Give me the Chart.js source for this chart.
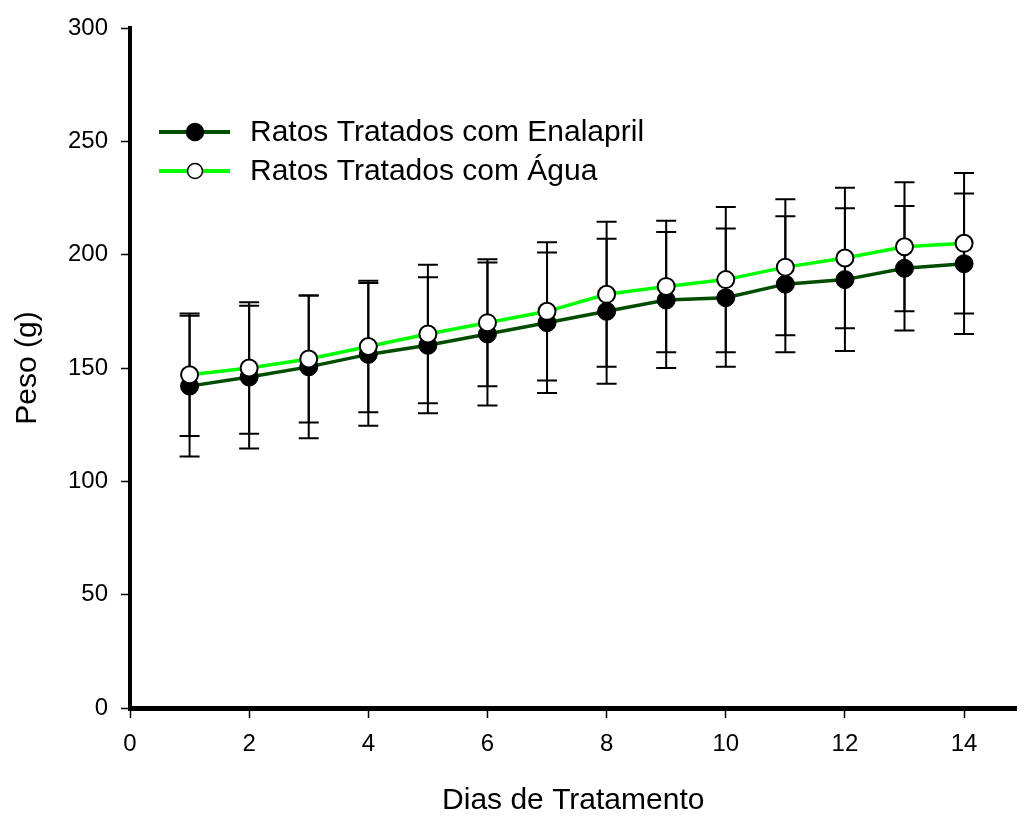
<!DOCTYPE html>
<html>
<head>
<meta charset="utf-8">
<script src="https://cdn.jsdelivr.net/npm/chart.js@4"></script>
<style>
  html, body { margin: 0; padding: 0; background: #fff; }
  #wrap { width: 1027px; height: 819px; position: relative; }
</style>
</head>
<body>
<div id="wrap"><canvas id="chart"></canvas></div>
<script>
// dias de tratamento
const days = [1, 2, 3, 4, 5, 6, 7, 8, 9, 10, 11, 12, 13, 14];

// ratos tratados com enalapril (media e desvio)
const enalaprilMean = [142, 146, 150.5, 156, 160, 165, 170, 175, 180, 181, 187, 189, 194, 196];
const enalaprilSD = [31, 31.5, 31.5, 31.5, 30, 31.5, 31, 32, 30, 30.5, 30, 31.5, 27.5, 31];

// ratos tratados com agua
const aguaMean = [147, 150, 154, 159.5, 165, 170, 175, 182.5, 186, 189, 194.5, 198.5, 203.5, 205];
const aguaSD = [27, 29, 28, 29, 30.5, 28, 30.5, 32, 29, 32, 30, 31, 28.5, 31];

const xTicks = [0, 2, 4, 6, 8, 10, 12, 14];
const yTicks = [0, 50, 100, 150, 200, 250, 300];

const seriesNames = ['Ratos Tratados com Enalapril', 'Ratos Tratados com Água'];
const errors = [enalaprilSD, aguaSD];

Chart.defaults.font.family = '"Liberation Sans", Arial, sans-serif';
Chart.defaults.color = '#000';

// barras de erro desenhadas antes das linhas
const errorBars = {
    id: 'errorBars',
    beforeDatasetsDraw(chart) {
        const ctx = chart.ctx;
        const xs = chart.scales.x, ys = chart.scales.y;
        ctx.save();
        ctx.strokeStyle = '#000';
        ctx.lineWidth = 2;
        chart.data.datasets.forEach((ds, d) => {
            ds.data.forEach((p, i) => {
                const x = xs.getPixelForValue(p.x);
                const top = ys.getPixelForValue(p.y + errors[d][i]);
                const bot = ys.getPixelForValue(p.y - errors[d][i]);
                ctx.beginPath();
                ctx.moveTo(x, top); ctx.lineTo(x, bot);
                ctx.moveTo(x - 10, top); ctx.lineTo(x + 10, top);
                ctx.moveTo(x - 10, bot); ctx.lineTo(x + 10, bot);
                ctx.stroke();
            });
        });
        ctx.restore();
    }
};

// legenda dentro da area do grafico
const innerLegend = {
    id: 'innerLegend',
    afterDraw(chart) {
        const ctx = chart.ctx;
        const left = chart.chartArea.left + 29;
        const rows = [132, 171];
        ctx.save();
        chart.data.datasets.forEach((ds, d) => {
            const y = rows[d];
            ctx.strokeStyle = ds.borderColor;
            ctx.lineWidth = 4;
            ctx.beginPath();
            ctx.moveTo(left, y); ctx.lineTo(left + 71, y);
            ctx.stroke();
            ctx.beginPath();
            ctx.arc(left + 36, y, d === 0 ? 8.5 : 7.5, 0, Math.PI * 2);
            ctx.fillStyle = ds.pointBackgroundColor;
            ctx.fill();
            ctx.lineWidth = 1.5;
            ctx.strokeStyle = '#000';
            ctx.stroke();
            ctx.fillStyle = '#000';
            ctx.font = '30px "Liberation Sans", Arial, sans-serif';
            ctx.textBaseline = 'middle';
            ctx.fillText(seriesNames[d], left + 91, y + 1);
        });
        ctx.restore();
    }
};

new Chart(document.getElementById('chart'), {
    type: 'line',
    data: {
        datasets: [{
            label: seriesNames[0],
            data: days.map((d, i) => ({ x: d, y: enalaprilMean[i] })),
            borderColor: '#004d00',
            borderWidth: 3.5,
            pointRadius: 9,
            pointBackgroundColor: '#000',
            pointBorderColor: '#000',
            pointBorderWidth: 1,
            order: 1
        }, {
            label: seriesNames[1],
            data: days.map((d, i) => ({ x: d, y: aguaMean[i] })),
            borderColor: '#00ff00',
            borderWidth: 3.5,
            pointRadius: 8.5,
            pointBackgroundColor: '#fff',
            pointBorderColor: '#000',
            pointBorderWidth: 2,
            order: 0
        }]
    },
    options: {
        responsive: true,
        maintainAspectRatio: false,
        animation: false,
        layout: { padding: { top: 28, right: 0, bottom: 0, left: 0 } },
        plugins: {
            legend: { display: false },
            tooltip: { enabled: false }
        },
        scales: {
            x: {
                type: 'linear',
                min: 0,
                max: 14.88,
                afterBuildTicks: s => { s.ticks = xTicks.map(v => ({ value: v })); },
                afterFit: s => { s.height = 111; },
                border: { display: true, color: '#000', width: 5 },
                grid: { drawOnChartArea: false, drawTicks: true, tickLength: 10, tickWidth: 1.5, tickColor: '#000' },
                ticks: { font: { size: 24 }, color: '#000', padding: 12, maxRotation: 0 },
                title: { display: true, text: 'Dias de Tratamento', font: { size: 30 }, color: '#000', padding: { top: 0, bottom: 0 } }
            },
            y: {
                min: 0,
                max: 300,
                afterBuildTicks: s => { s.ticks = yTicks.map(v => ({ value: v })); },
                afterFit: s => { s.width = 130; },
                border: { display: true, color: '#000', width: 4 },
                grid: { drawOnChartArea: false, drawTicks: true, tickLength: 9, tickWidth: 1.5, tickColor: '#000' },
                ticks: { font: { size: 24 }, color: '#000', padding: 13 },
                title: { display: true, text: 'Peso (g)', font: { size: 30 }, color: '#000', padding: { top: 10, bottom: 0 } }
            }
        }
    },
    plugins: [errorBars, innerLegend]
});
</script>
</body>
</html>
